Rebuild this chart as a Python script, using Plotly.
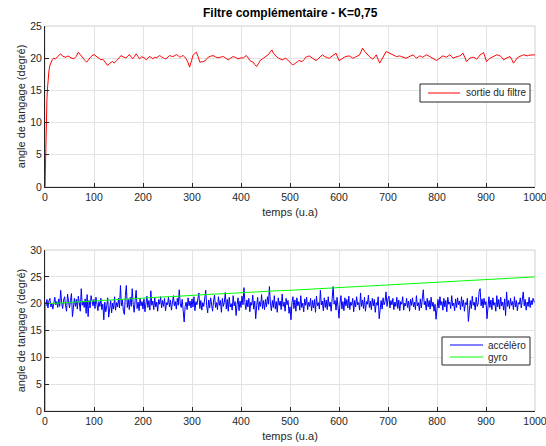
import plotly.graph_objects as go

# ---------------- data ----------------
t_filtre = [0, 1, 2, 3, 4, 5, 6, 7, 8, 10, 12, 15, 18, 21, 25, 28, 32, 36, 42, 47,
            53, 59, 64, 68, 72, 77, 81, 85, 90, 94, 100, 104, 107, 111, 114, 118, 121, 125, 128, 132,
            135, 138, 141, 145, 148, 152, 155, 160, 165, 169, 172, 176, 179, 183, 186, 190, 193, 197, 200, 204,
            207, 210, 213, 217, 220, 224, 227, 231, 234, 238, 241, 244, 247, 251, 254, 258, 261, 265, 268, 272,
            275, 279, 282, 285, 288, 292, 295, 299, 302, 305, 309, 312, 316, 321, 326, 330, 333, 338, 343, 348,
            353, 358, 364, 369, 374, 379, 384, 389, 394, 400, 405, 408, 411, 415, 418, 421, 425, 428, 432, 436,
            439, 444, 449, 453, 456, 460, 463, 466, 470, 473, 477, 481, 484, 488, 491, 495, 498, 502, 505, 509,
            512, 515, 518, 522, 525, 529, 532, 536, 539, 543, 546, 550, 553, 556, 559, 563, 566, 570, 573, 577,
            580, 584, 587, 591, 594, 597, 600, 604, 607, 611, 614, 618, 621, 625, 628, 632, 635, 639, 642, 645,
            648, 652, 655, 659, 662, 666, 669, 673, 676, 680, 683, 686, 689, 693, 696, 700, 703, 707, 710, 714,
            717, 721, 724, 727, 730, 734, 737, 741, 744, 748, 751, 755, 758, 762, 765, 768, 771, 775, 778, 782,
            785, 789, 792, 796, 799, 803, 806, 809, 812, 816, 819, 823, 826, 830, 833, 837, 840, 844, 847, 850,
            853, 857, 860, 864, 867, 871, 874, 878, 881, 885, 888, 892, 895, 898, 901, 905, 908, 912, 915, 919,
            922, 926, 929, 933, 936, 939, 942, 946, 949, 953, 956, 960, 963, 967, 970, 974, 977, 980, 984, 987,
            990, 994, 997, 1000]
sortie_filtre = [0.0, 5.0, 8.8, 11.6, 13.7, 15.2, 16.4, 17.3, 18.0, 18.9, 19.4, 19.8, 20.0, 19.85, 20.2, 20.35, 20.67, 20.3, 20.15, 20.35,
                 20.05, 19.9, 20.3, 20.93, 20.5, 20.15, 19.7, 19.38, 19.9, 20.26, 20.57, 20.4, 20.15, 19.95, 19.75, 19.85, 19.54, 19.3, 18.87, 19.2,
                 19.38, 19.5, 19.23, 19.45, 19.75, 20.1, 20.41, 20.2, 20.05, 20.3, 20.57, 20.2, 19.9, 20.3, 20.67, 20.25, 19.9, 20.2, 20.15, 19.95,
                 19.75, 20.0, 20.26, 20.1, 19.9, 20.15, 20.05, 20.25, 20.41, 20.2, 20.05, 19.95, 19.9, 20.2, 20.41, 20.3, 20.26, 20.4, 20.57, 20.35,
                 20.15, 20.3, 20.41, 20.2, 19.9, 19.3, 18.61, 19.6, 20.41, 20.7, 20.93, 20.3, 19.38, 19.45, 19.54, 19.9, 20.15, 20.3, 20.41, 20.2,
                 20.05, 20.15, 20.26, 20.0, 19.75, 20.0, 20.26, 20.1, 19.9, 20.05, 20.05, 20.25, 20.41, 20.0, 19.64, 19.5, 19.38, 19.0, 18.71, 19.2,
                 19.64, 19.9, 20.15, 20.3, 20.57, 21.0, 21.29, 20.8, 20.41, 20.2, 20.0, 19.85, 19.74, 19.9, 20.0, 19.75, 19.48, 19.2, 18.97, 19.1,
                 19.23, 19.45, 19.64, 19.5, 19.48, 19.8, 20.15, 20.25, 20.36, 20.15, 20.0, 19.8, 19.64, 19.8, 20.0, 20.3, 20.52, 20.3, 20.15, 20.05,
                 20.0, 20.2, 20.36, 20.55, 20.77, 20.2, 19.64, 19.8, 20.0, 20.15, 20.26, 20.3, 20.36, 20.15, 20.0, 20.1, 20.26, 20.4, 20.52, 21.0,
                 21.55, 21.1, 20.77, 20.5, 20.26, 20.05, 19.85, 20.2, 20.52, 19.8, 19.23, 19.6, 20.0, 20.5, 21.03, 20.9, 20.77, 20.65, 20.52, 20.4,
                 20.26, 20.3, 20.36, 20.25, 20.15, 20.05, 20.0, 20.15, 20.26, 20.4, 20.52, 20.25, 20.0, 20.2, 20.36, 20.25, 20.15, 20.35, 20.52, 20.4,
                 20.26, 20.1, 20.0, 19.8, 19.64, 19.85, 20.0, 20.2, 20.36, 20.25, 20.15, 20.35, 20.52, 20.25, 20.0, 20.15, 20.26, 20.3, 20.36, 20.55,
                 20.77, 20.1, 19.48, 19.75, 20.0, 20.1, 20.15, 20.0, 19.85, 20.2, 20.52, 20.7, 20.88, 20.2, 19.48, 19.75, 20.0, 20.15, 20.26, 20.4,
                 20.52, 20.45, 20.36, 20.05, 19.74, 19.9, 20.0, 20.15, 20.26, 19.75, 19.23, 19.6, 20.0, 20.2, 20.36, 20.45, 20.52, 20.45, 20.36, 20.45,
                 20.52, 20.5, 20.52, 20.5]

t_accelero = list(range(0, 1001, 2))
accelero = [
    20.3, 19.6, 20.8, 19.2, 20.5, 21.0, 19.4, 20.1, 19.0, 20.6, 21.2, 19.8, 20.4, 19.3, 20.9, 19.5, 22.5, 20.2, 19.1, 20.7, 21.3, 19.6, 18.6, 21.8, 20.0,
    19.2, 20.6, 21.9, 17.6, 20.3, 21.0, 19.5, 20.8, 19.0, 21.4, 20.2, 18.6, 22.8, 19.7, 20.5, 19.3, 20.9, 18.2, 21.7, 17.6, 20.6, 19.2, 21.5, 20.0, 19.6,
    20.8, 19.1, 21.2, 19.8, 18.7, 20.4, 19.5, 21.0, 18.9, 19.9, 17.0, 20.3, 18.5, 19.6, 21.1, 17.5, 19.4, 20.6, 18.3, 20.1, 19.0, 21.3, 18.8, 20.2, 19.4,
    21.0, 19.2, 23.4, 19.6, 20.7, 18.6, 18.0, 21.5, 23.4, 19.3, 20.8, 18.9, 21.2, 19.5, 22.8, 19.9, 18.4, 20.6, 22.5, 19.1, 20.3, 18.7, 21.0, 19.6, 20.4,
    19.0, 20.9, 18.5, 20.2, 21.4, 19.3, 20.6, 18.8, 22.4, 19.7, 20.5, 18.9, 21.1, 19.4, 20.3, 18.6, 20.8, 19.9, 21.3, 19.2, 20.6, 19.5, 21.0, 18.7, 20.2,
    19.8, 21.2, 19.4, 20.7, 18.8, 20.1, 21.5, 19.6, 20.4, 19.0, 21.0, 19.7, 22.6, 20.0, 19.3, 20.8, 18.6, 16.6, 19.5, 20.3, 18.9, 21.1, 19.6, 20.5, 19.2,
    20.9, 19.4, 21.3, 18.7, 20.4, 19.8, 21.0, 22.0, 19.1, 20.6, 18.8, 20.2, 19.5, 21.4, 22.5, 19.6, 18.3, 20.7, 19.2, 21.1, 19.9, 18.6, 20.5, 21.6, 19.3,
    20.2, 18.9, 21.3, 19.7, 20.6, 18.4, 21.0, 19.5, 20.3, 22.1, 19.0, 20.8, 18.6, 21.2, 19.4, 20.0, 18.8, 21.5, 19.6, 20.4, 17.8, 19.9, 21.1, 18.7, 20.5,
    19.3, 21.4, 19.8, 23.0, 20.2, 18.9, 20.7, 19.4, 21.0, 18.5, 20.3, 19.7, 21.6, 19.0, 20.5, 17.2, 19.6, 21.2, 18.8, 20.4, 19.5, 21.7, 19.1, 20.6, 18.9,
    20.8, 19.4, 21.3, 19.9, 23.2, 20.1, 18.7, 20.6, 19.3, 21.5, 19.0, 20.4, 18.4, 21.1, 19.7, 20.5, 18.9, 21.8, 19.5, 20.3, 18.6, 21.0, 19.8, 20.6, 18.2,
    19.4, 17.0, 20.2, 21.3, 19.1, 20.7, 18.6, 21.1, 19.6, 20.4, 18.8, 21.5, 19.3, 20.1, 18.5, 20.9, 19.7, 21.2, 18.9, 20.3, 19.5, 21.0, 18.7, 20.6, 19.2,
    20.8, 18.4, 21.4, 19.6, 20.2, 19.0, 22.5, 19.8, 20.5, 18.7, 21.1, 19.3, 20.7, 18.9, 21.3, 19.5, 20.3, 18.6, 21.0, 23.2, 19.9, 20.6, 18.8, 21.2, 19.4,
    17.3, 20.1, 21.5, 19.0, 20.4, 18.7, 21.1, 19.6, 20.8, 19.2, 21.4, 18.9, 20.3, 19.7, 21.0, 18.5, 20.6, 19.4, 21.3, 19.8, 20.2, 18.8, 22.0, 19.5, 20.7,
    19.1, 21.2, 18.6, 20.4, 19.9, 21.6, 19.3, 20.5, 18.9, 21.0, 19.6, 20.8, 18.4, 20.2, 19.7, 21.3, 17.2, 19.4, 20.6, 19.0, 21.1, 19.8, 20.4, 22.2, 19.5,
    20.9, 21.4, 19.2, 20.6, 19.8, 21.0, 18.9, 20.3, 19.5, 21.2, 19.1, 20.7, 18.7, 20.4, 19.9, 21.3, 18.8, 20.1, 19.6, 21.0, 19.3, 20.5, 18.6, 20.8, 19.7,
    21.1, 19.4, 20.3, 18.9, 21.5, 19.6, 20.2, 18.7, 20.9, 19.2, 21.4, 22.6, 19.8, 20.5, 18.8, 21.0, 19.4, 20.6, 19.0, 21.2, 19.5, 20.3, 18.6, 19.9, 17.1,
    19.6, 20.8, 19.2, 21.3, 19.7, 20.4, 18.8, 21.0, 19.4, 20.6, 18.5, 21.2, 19.9, 20.3, 19.1, 21.5, 19.6, 20.1, 18.7, 20.9, 19.3, 21.1, 19.8, 20.5, 18.9,
    21.3, 19.5, 20.7, 18.6, 20.2, 19.8, 21.0, 16.7, 19.4, 20.6, 19.1, 21.4, 19.7, 20.3, 18.8, 21.2, 19.5, 20.0, 22.3, 22.8, 19.6, 20.9, 19.2, 21.0, 19.8,
    20.4, 17.2, 19.6, 21.3, 19.3, 20.7, 18.9, 21.1, 19.7, 20.2, 18.6, 21.5, 19.4, 20.8, 19.0, 21.2, 19.6, 20.3, 18.8, 20.9, 17.8, 22.2, 19.5, 20.6, 19.1,
    21.0, 19.7, 20.4, 18.9, 21.3, 19.4, 20.6, 18.7, 20.2, 19.9, 21.1, 19.2, 20.5, 22.2, 19.6, 20.8, 18.8, 20.3, 19.5, 21.2, 19.3, 20.6, 19.8, 21.0, 20.4,
    20.2]

t_gyro = [0, 1, 20, 40, 60, 80, 100, 120, 140, 160, 180, 200, 220, 240, 260, 280, 300, 320, 340, 360,
          380, 400, 420, 440, 460, 480, 500, 520, 540, 560, 580, 600, 620, 640, 660, 680, 700, 720, 740, 760,
          780, 800, 820, 840, 860, 880, 900, 920, 940, 960, 980, 1000]
gyro = [0.0, 20.0, 20.08, 20.2, 20.28, 20.42, 20.5, 20.62, 20.7, 20.84, 20.93, 21.05, 21.14, 21.26, 21.33, 21.46, 21.55, 21.64, 21.77, 21.84,
        21.96, 22.08, 22.16, 22.3, 22.38, 22.44, 22.5, 22.62, 22.7, 22.82, 22.9, 23.0, 23.1, 23.21, 23.3, 23.4, 23.5, 23.6, 23.69, 23.8,
        23.9, 24.0, 24.1, 24.19, 24.3, 24.4, 24.5, 24.6, 24.7, 24.8, 24.9, 25.0]

x_ticks = [0, 100, 200, 300, 400, 500, 600, 700, 800, 900, 1000]
y_ticks_haut = [0, 5, 10, 15, 20, 25]
y_ticks_bas = [0, 5, 10, 15, 20, 25, 30]

titre = "Filtre complémentaire - K=0,75"
label_x = "temps (u.a)"
label_y = "angle de tangage (degré)"

assert len(t_filtre) == len(sortie_filtre), (len(t_filtre), len(sortie_filtre))
assert len(t_accelero) == len(accelero), (len(t_accelero), len(accelero))
assert len(t_gyro) == len(gyro)

# ---------------- figure ----------------
FONT = "Liberation Sans, Arial, Helvetica, sans-serif"
DARK = "#262626"
GRID = "#e3e3e3"
ROUGE, BLEU, VERT = "#ff0000", "#0000ff", "#00ff00"

# figure fills the whole window (body margin removed in post_script)
W, H = 546, 446
ML, MT = 45, 26
PW, PH = 490, 385
MR = W - ML - PW
MB = H - MT - PH


def px(xw):   # window x pixel -> paper x
    return (xw - ML) / PW


def py(yw):   # window y pixel -> paper y
    return 1 - (yw - MT) / PH


fig = go.Figure()
fig.add_trace(go.Scatter(x=t_filtre, y=sortie_filtre, mode="lines", name="sortie du filtre",
                         line=dict(color=ROUGE, width=1), xaxis="x", yaxis="y"))
fig.add_trace(go.Scatter(x=t_accelero, y=accelero, mode="lines", name="accélèro",
                         line=dict(color=BLEU, width=1), xaxis="x2", yaxis="y2"))
fig.add_trace(go.Scatter(x=t_gyro, y=gyro, mode="lines", name="gyro",
                         line=dict(color=VERT, width=1), xaxis="x2", yaxis="y2"))

axis_common = dict(showline=True, linecolor=DARK, linewidth=1, ticks="inside", ticklen=4,
                   tickcolor=DARK, showgrid=True, gridcolor=GRID, gridwidth=1, zeroline=False,
                   ticklabeloverflow="allow",
                   tickfont=dict(size=10.5, color=DARK, family=FONT))

xcommon = dict(axis_common, range=[0, 1000], tickvals=x_ticks,
               title=dict(text=label_x, font=dict(size=11, color=DARK, family=FONT), standoff=6))
ytitle = dict(text=label_y, font=dict(size=11, color=DARK, family=FONT), standoff=2)

# hand-drawn legends (box + line sample + text)
legend_shapes = [
    dict(type="rect", xref="paper", yref="paper", x0=px(420), x1=px(530), y0=py(102), y1=py(84),
         line=dict(color=DARK, width=1), fillcolor="white", layer="above"),
    dict(type="line", xref="paper", yref="paper", x0=px(428), x1=px(460), y0=py(93), y1=py(93),
         line=dict(color=ROUGE, width=1), layer="above"),
    dict(type="rect", xref="paper", yref="paper", x0=px(442), x1=px(530), y0=py(365), y1=py(337),
         line=dict(color=DARK, width=1), fillcolor="white", layer="above"),
    dict(type="line", xref="paper", yref="paper", x0=px(450), x1=px(483), y0=py(345), y1=py(345),
         line=dict(color=BLEU, width=1), layer="above"),
    dict(type="line", xref="paper", yref="paper", x0=px(450), x1=px(483), y0=py(357), y1=py(357),
         line=dict(color=VERT, width=1), layer="above"),
]
legend_texts = [
    dict(text="sortie du filtre", x=px(464), y=py(93)),
    dict(text="accélèro", x=px(486), y=py(345)),
    dict(text="gyro", x=px(486), y=py(357)),
]
annotations = [dict(text="<b>" + titre + "</b>", xref="paper", yref="paper", x=0.5, y=py(13),
                    xanchor="center", yanchor="middle", showarrow=False,
                    font=dict(size=12, color="#000000", family=FONT))]
for lt in legend_texts:
    annotations.append(dict(lt, xref="paper", yref="paper", xanchor="left", yanchor="middle",
                            showarrow=False, font=dict(size=10, color=DARK, family=FONT)))

fig.update_layout(
    width=W, height=H,
    paper_bgcolor="white", plot_bgcolor="white",
    margin=dict(l=ML, r=MR, t=MT, b=MB, autoexpand=False),
    font=dict(family=FONT, color=DARK),
    showlegend=False,
    hovermode=False,
    xaxis=dict(xcommon, domain=[0, 1], anchor="y"),
    yaxis=dict(axis_common, domain=[0.582, 1], anchor="x", range=[0, 25], tickvals=y_ticks_haut,
               title=ytitle),
    xaxis2=dict(xcommon, domain=[0, 1], anchor="y2"),
    yaxis2=dict(axis_common, domain=[0, 0.418], anchor="x2", range=[0, 30], tickvals=y_ticks_bas,
                title=ytitle),
    annotations=annotations,
    shapes=[
        dict(type="rect", xref="x domain", yref="y domain", x0=0, x1=1, y0=0, y1=1,
             line=dict(color="#cfcfcf", width=1), layer="below"),
        dict(type="rect", xref="x2 domain", yref="y2 domain", x0=0, x1=1, y0=0, y1=1,
             line=dict(color="#cfcfcf", width=1), layer="below"),
    ] + legend_shapes,
)

fig.write_html("out.html", config={"displayModeBar": False},
               post_script="document.body.style.margin='0';document.body.style.overflow='hidden';")
